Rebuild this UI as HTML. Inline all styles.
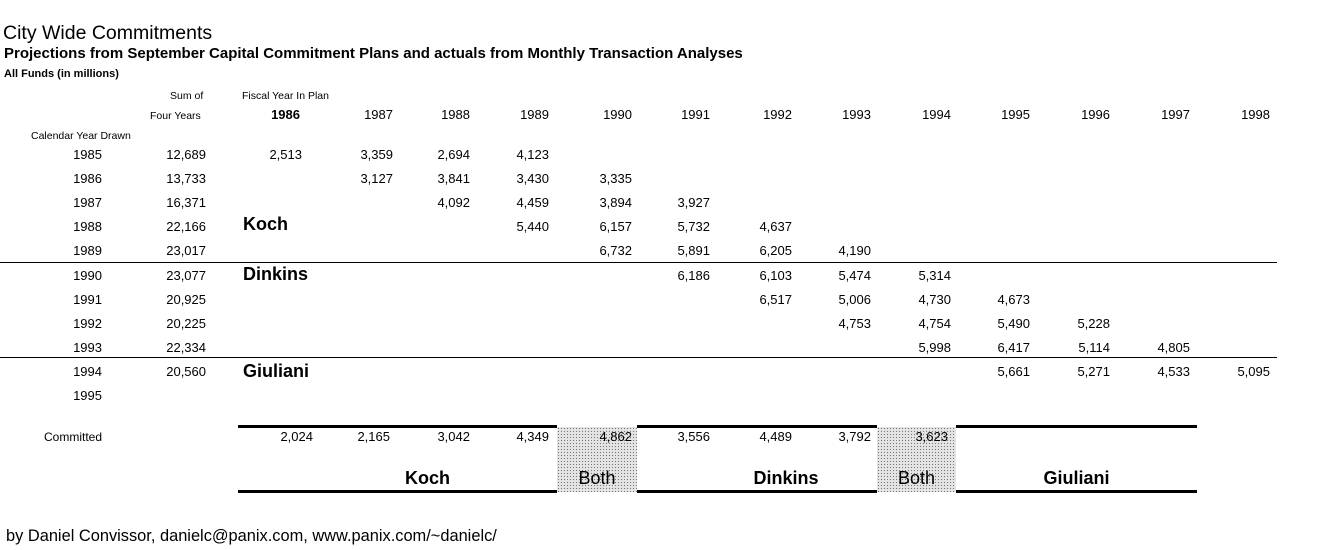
<!DOCTYPE html><html><head><style>
body{margin:0;width:1327px;height:550px;background:#fff;position:relative;overflow:hidden;font-family:"Liberation Sans",Arial,sans-serif;color:#000}
div{position:absolute;white-space:nowrap}
.n{font-size:13px;width:70px;text-align:right;line-height:14px}
.s{font-size:10.5px;line-height:12px}
.b{font-weight:bold;font-size:18px;line-height:20px}
.hl{height:1px;background:#000}
.tk{height:3px;background:#000}
.g{background-color:#e4e4e4;background-image:radial-gradient(#777 0.6px,transparent 0.8px);background-size:3px 3px}
.lb{font-weight:bold;font-size:18px;text-align:center;line-height:20px}
</style></head><body>
<div style="left:3px;top:22px;font-size:19.5px">City Wide Commitments</div>
<div style="left:4px;top:45px;font-size:15px;font-weight:bold">Projections from September Capital Commitment Plans and actuals from Monthly Transaction Analyses</div>
<div style="left:4px;top:68px;font-size:11px;font-weight:bold">All Funds (in millions)</div>
<div class="s" style="left:170px;top:90px">Sum of</div>
<div class="s" style="left:242px;top:90px">Fiscal Year In Plan</div>
<div class="s" style="left:150px;top:110px">Four Years</div>
<div class="s" style="left:31px;top:130px">Calendar Year Drawn</div>
<div class="n" style="left:230px;top:108px;font-weight:bold">1986</div><div class="n" style="left:323px;top:108px">1987</div><div class="n" style="left:400px;top:108px">1988</div><div class="n" style="left:479px;top:108px">1989</div><div class="n" style="left:562px;top:108px">1990</div><div class="n" style="left:640px;top:108px">1991</div><div class="n" style="left:722px;top:108px">1992</div><div class="n" style="left:801px;top:108px">1993</div><div class="n" style="left:881px;top:108px">1994</div><div class="n" style="left:960px;top:108px">1995</div><div class="n" style="left:1040px;top:108px">1996</div><div class="n" style="left:1120px;top:108px">1997</div><div class="n" style="left:1200px;top:108px">1998</div>

<div class="n" style="left:32px;top:148px">1985</div><div class="n" style="left:136px;top:148px">12,689</div><div class="n" style="left:232px;top:148px">2,513</div><div class="n" style="left:323px;top:148px">3,359</div><div class="n" style="left:400px;top:148px">2,694</div><div class="n" style="left:479px;top:148px">4,123</div>
<div class="n" style="left:32px;top:172px">1986</div><div class="n" style="left:136px;top:172px">13,733</div><div class="n" style="left:323px;top:172px">3,127</div><div class="n" style="left:400px;top:172px">3,841</div><div class="n" style="left:479px;top:172px">3,430</div><div class="n" style="left:562px;top:172px">3,335</div>
<div class="n" style="left:32px;top:196px">1987</div><div class="n" style="left:136px;top:196px">16,371</div><div class="n" style="left:400px;top:196px">4,092</div><div class="n" style="left:479px;top:196px">4,459</div><div class="n" style="left:562px;top:196px">3,894</div><div class="n" style="left:640px;top:196px">3,927</div>
<div class="n" style="left:32px;top:220px">1988</div><div class="n" style="left:136px;top:220px">22,166</div><div class="n" style="left:479px;top:220px">5,440</div><div class="n" style="left:562px;top:220px">6,157</div><div class="n" style="left:640px;top:220px">5,732</div><div class="n" style="left:722px;top:220px">4,637</div>
<div class="n" style="left:32px;top:244px">1989</div><div class="n" style="left:136px;top:244px">23,017</div><div class="n" style="left:562px;top:244px">6,732</div><div class="n" style="left:640px;top:244px">5,891</div><div class="n" style="left:722px;top:244px">6,205</div><div class="n" style="left:801px;top:244px">4,190</div>
<div class="n" style="left:32px;top:269px">1990</div><div class="n" style="left:136px;top:269px">23,077</div><div class="n" style="left:640px;top:269px">6,186</div><div class="n" style="left:722px;top:269px">6,103</div><div class="n" style="left:801px;top:269px">5,474</div><div class="n" style="left:881px;top:269px">5,314</div>
<div class="n" style="left:32px;top:293px">1991</div><div class="n" style="left:136px;top:293px">20,925</div><div class="n" style="left:722px;top:293px">6,517</div><div class="n" style="left:801px;top:293px">5,006</div><div class="n" style="left:881px;top:293px">4,730</div><div class="n" style="left:960px;top:293px">4,673</div>
<div class="n" style="left:32px;top:317px">1992</div><div class="n" style="left:136px;top:317px">20,225</div><div class="n" style="left:801px;top:317px">4,753</div><div class="n" style="left:881px;top:317px">4,754</div><div class="n" style="left:960px;top:317px">5,490</div><div class="n" style="left:1040px;top:317px">5,228</div>
<div class="n" style="left:32px;top:341px">1993</div><div class="n" style="left:136px;top:341px">22,334</div><div class="n" style="left:881px;top:341px">5,998</div><div class="n" style="left:960px;top:341px">6,417</div><div class="n" style="left:1040px;top:341px">5,114</div><div class="n" style="left:1120px;top:341px">4,805</div>
<div class="n" style="left:32px;top:365px">1994</div><div class="n" style="left:136px;top:365px">20,560</div><div class="n" style="left:960px;top:365px">5,661</div><div class="n" style="left:1040px;top:365px">5,271</div><div class="n" style="left:1120px;top:365px">4,533</div><div class="n" style="left:1200px;top:365px">5,095</div>
<div class="n" style="left:32px;top:389px">1995</div>

<div class="b" style="left:243px;top:214px">Koch</div>
<div class="b" style="left:243px;top:264px">Dinkins</div>
<div class="b" style="left:243px;top:361px">Giuliani</div>
<div class="hl" style="left:0;top:262px;width:1277px"></div>
<div class="hl" style="left:0;top:357px;width:1277px"></div>

<div class="g" style="left:557px;top:427px;width:80px;height:65px"></div>
<div class="g" style="left:877px;top:427px;width:79px;height:65px"></div>
<div class="tk" style="left:238px;top:425px;width:319px"></div><div class="tk" style="left:637px;top:425px;width:240px"></div><div class="tk" style="left:956px;top:425px;width:241px"></div>
<div class="tk" style="left:238px;top:490px;width:319px"></div><div class="tk" style="left:637px;top:490px;width:240px"></div><div class="tk" style="left:956px;top:490px;width:241px"></div>
<div class="n" style="left:32px;top:430px;font-size:12px">Committed</div>
<div class="n" style="left:243px;top:430px">2,024</div><div class="n" style="left:320px;top:430px">2,165</div><div class="n" style="left:400px;top:430px">3,042</div><div class="n" style="left:479px;top:430px">4,349</div><div class="n" style="left:562px;top:430px">4,862</div><div class="n" style="left:640px;top:430px">3,556</div><div class="n" style="left:722px;top:430px">4,489</div><div class="n" style="left:801px;top:430px">3,792</div><div class="n" style="left:878px;top:430px">3,623</div>
<div class="lb" style="left:238px;top:468px;width:379px">Koch</div>
<div class="lb" style="left:557px;top:468px;width:80px;font-weight:normal">Both</div>
<div class="lb" style="left:637px;top:468px;width:298px">Dinkins</div>
<div class="lb" style="left:877px;top:468px;width:79px;font-weight:normal">Both</div>
<div class="lb" style="left:956px;top:468px;width:241px">Giuliani</div>
<div style="left:6px;top:527px;font-size:16.4px">by Daniel Convissor, danielc@panix.com, www.panix.com/~danielc/</div>
</body></html>
